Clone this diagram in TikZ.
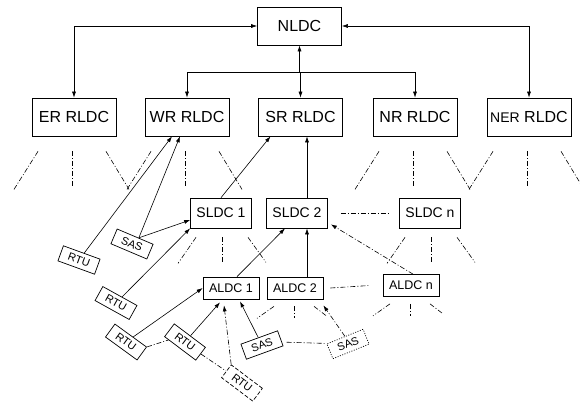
\documentclass[tikz,border=0pt]{standalone}
\usepackage{fontspec}
\setmainfont{Liberation Sans}
\usetikzlibrary{arrows.meta,calc}
\begin{document}
\begin{tikzpicture}[x=1pt,y=-1pt,
  box/.style={draw,line width=0.7pt,inner sep=0pt,align=center},
  rl/.style={box,minimum width=84pt,minimum height=38pt,font=\fontsize{16}{18}\selectfont},
  sl/.style={box,minimum width=61pt,minimum height=30pt,font=\fontsize{14}{16}\selectfont},
  al/.style={box,minimum width=56pt,minimum height=22pt,font=\fontsize{12.5}{14}\selectfont},
  sm/.style={box,minimum width=39pt,minimum height=16pt,font=\fontsize{11}{12}\selectfont},
  con/.style={line width=0.6pt},
  arr/.style={con,-{Latex[length=6pt,width=4pt]}},
  arrtwo/.style={con,{Latex[length=6pt,width=4pt]}-{Latex[length=6pt,width=4pt]}},
  dd/.style={con,dash pattern=on 5pt off 2pt on 1pt off 2pt},
  dashbox/.style={dash pattern=on 4pt off 2pt},
  dotbox/.style={dash pattern=on 1pt off 1.5pt}]
\useasboundingbox (0,0) rectangle (580,402);

% level 1 and 2
\node[rl] (nldc) at (299.5,26) {NLDC};
\node[rl] (er) at (74,117) {ER RLDC};
\node[rl] (wr) at (187,117) {WR RLDC};
\node[rl] (sr) at (300.5,117) {SR RLDC};
\node[rl] (nr) at (415,117) {NR RLDC};
\node[rl] (ner) at (529,117) {{\fontsize{14}{16}\selectfont NER} RLDC};

% SLDC
\node[sl] (sl1) at (221,213) {SLDC 1};
\node[sl] (sl2) at (297,213) {SLDC 2};
\node[sl] (sln) at (430,213) {SLDC n};

% ALDC
\node[al] (al1) at (231,288) {ALDC 1};
\node[al] (al2) at (295,288) {ALDC 2};
\node[al] (aln) at (411,285.5) {ALDC n};

% small units
\node[sm,rotate=-20] (rtu1) at (79,260) {RTU};
\node[sm,rotate=-23] (sas1) at (132,244) {SAS};
\node[sm,rotate=-29] (rtu2) at (116,303) {RTU};
\node[sm,rotate=-36] (rtu3) at (126,342) {RTU};
\node[sm,rotate=-37] (rtu4) at (185,342) {RTU};
\node[sm,rotate=-37,dashbox] (rtu5) at (242,383) {RTU};
\node[sm,rotate=20] (sas2) at (262,345) {SAS};
\node[sm,rotate=22,dotbox] (sas3) at (348,344) {SAS};

% top connectors
\draw[arrtwo] (er.north) |- (nldc.west);
\draw[arrtwo] (ner.north) |- (nldc.east);
\coordinate (hub) at (299.5,72);
\draw[arr] (hub) -- (nldc.south);
\draw[con] (wr.north |- hub) -- (nr.north |- hub);
\draw[arr] (wr.north |- hub) -- (wr.north);
\draw[arr] (sr.north |- hub) -- (sr.north);
\draw[arr] (nr.north |- hub) -- (nr.north);

% fans below RLDCs
\foreach \n in {er,wr,nr,ner}{
  \draw[dd] ([xshift=-36pt,yshift=-15pt]\n.south) -- ++(-24,38);
  \draw[dd] ([xshift=-2pt,yshift=-15pt]\n.south) -- ++(0,36);
  \draw[dd] ([xshift=32pt,yshift=-15pt]\n.south) -- ++(23,38);
}
% fans below SLDCs
\foreach \n in {sl1,sln}{
  \draw[dd] ([xshift=-25pt,yshift=-9pt]\n.south) -- ++(-18,26);
  \draw[dd] ([xshift=1pt,yshift=-9pt]\n.south) -- ++(0,26);
  \draw[dd] ([xshift=27pt,yshift=-9pt]\n.south) -- ++(18,25);
}
% fans below ALDCs
\foreach \n in {al2,aln}{
  \draw[dd] ([xshift=-21pt,yshift=-7pt]\n.south) -- ++(-17,12);
  \draw[dd] ([xshift=-1pt,yshift=-7pt]\n.south) -- ++(0,12);
  \draw[dd] ([xshift=19pt,yshift=-7pt]\n.south) -- ++(13,10);
}

% connectors to RLDCs and SLDCs
\draw[arr] (rtu1) -- ([xshift=-15pt]wr.south);
\draw[arr] (sas1.65) -- ([xshift=-7pt]wr.south);
\draw[arr] (sas1.65) -- ([yshift=-7pt]sl1.west);
\draw[arr] (sl1.north) -- ([xshift=-30pt]sr.south);
\draw[arr] (rtu2) -- (sl1.south west);
\draw[arr] ([xshift=10pt]sl2.north) -- ([xshift=10pt]sl2.north |- sr.south);
\draw[arr] ([xshift=12pt]al2.north) -- ([xshift=12pt]al2.north |- sl2.south);
\draw[arr] ([xshift=6pt]al1.north) -- ([xshift=-12pt]sl2.south);
\draw[arr,dd] ([xshift=2pt]aln.north) -- ([xshift=3pt,yshift=4pt]sl2.south east);
\draw[dd] ([xshift=13pt]sl2.east) -- ([xshift=-9pt]sln.west);
\draw[dd] ([xshift=7pt]al2.east) -- ([xshift=-13pt]aln.west);

% connectors to ALDCs
\draw[arr] (rtu3) -- (al1.west);
\draw[arr] (rtu4) -- ([xshift=-11pt,yshift=-3pt]al1.south);
\draw[arr,dd] (rtu5.north west) -- ([xshift=-7pt,yshift=-6pt]al1.south);
\draw[arr] (sas2) -- ([xshift=9pt,yshift=-2pt]al1.south);
\draw[arr,dd] (sas3.north) -- ([yshift=-6pt]al2.south east);
\draw[dd] (rtu3.north east) -- (rtu4.-150);
\draw[dd] (rtu4.east) -- (rtu5.west);
\draw[dd] ([xshift=6pt,yshift=-4pt]sas2.east) -- ([xshift=-3pt,yshift=8pt]sas3.west);
\end{tikzpicture}
\end{document}
